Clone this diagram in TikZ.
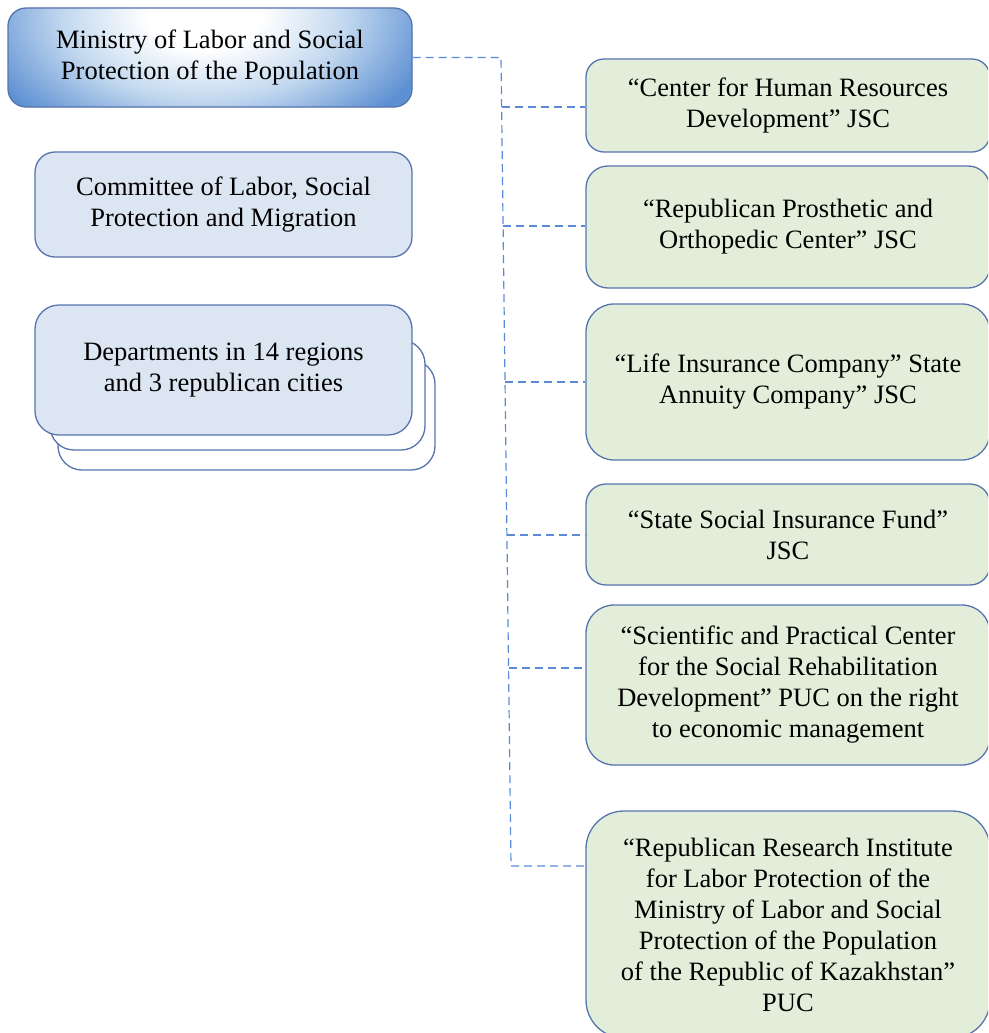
\documentclass[tikz,border=0pt]{standalone}
\usepackage{fontspec}
\setmainfont{Liberation Serif}
\definecolor{bordc}{HTML}{5774AD}
\definecolor{lblue}{HTML}{DCE6F3}
\definecolor{lgreen}{HTML}{E2EED9}
\definecolor{dashc}{HTML}{5B8BD8}
\definecolor{mlight}{HTML}{C2D8EF}
\definecolor{mblue}{HTML}{5D90D2}
\pgfdeclareradialshading{minsh}{\pgfpointorigin}{color(0bp)=(white); color(6bp)=(white); color(15bp)=(mlight); color(25bp)=(mblue); color(50bp)=(mblue)}
\tikzset{
  box/.style={draw=bordc, line width=1.3pt, align=center, inner sep=0pt,
    font=\fontsize{26.5}{31}\selectfont},
  bluebox/.style={box, fill=lblue},
  greenbox/.style={box, fill=lgreen},
  backbox/.style={box, fill=white},
  conn/.style={draw=dashc, line width=1.2pt, dash pattern=on 8pt off 5pt}
}
\begin{document}
\begin{tikzpicture}[x=1pt, y=-1pt]
\useasboundingbox (0,0) rectangle (988,1033);
\clip (0,0) rectangle (988,1033);
% left column
\node[box, fill=mblue, rounded corners=18pt, minimum width=404pt, minimum height=99pt,
  path picture={\shade[shading=minsh] ([xshift=-6pt,yshift=-8pt]path picture bounding box.north) ellipse [x radius=235pt, y radius=140pt];}] (ministry) at (210,57.5)
  {Ministry of Labor and Social\\Protection of the Population};
\node[bluebox, rounded corners=20pt, minimum width=377pt, minimum height=105pt] (committee) at (223.5,204.5)
  {Committee of Labor, Social\\Protection and Migration};
\node[backbox, rounded corners=24pt, minimum width=377pt, minimum height=110pt] (dep3) at (246.5,415) {};
\node[backbox, rounded corners=24pt, minimum width=375pt, minimum height=110pt] (dep2) at (237.5,395) {};
\node[bluebox, rounded corners=24pt, minimum width=377pt, minimum height=130pt] (dep1) at (223.5,370)
  {Departments in 14 regions\\and 3 republican cities};
% right column
\node[greenbox, rounded corners=18pt, minimum width=404pt, minimum height=93pt] (b1) at (788,105.5)
  {“Center for Human Resources\\Development” JSC};
\node[greenbox, rounded corners=22pt, minimum width=404pt, minimum height=122pt] (b2) at (788,227)
  {“Republican Prosthetic and\\Orthopedic Center” JSC};
\node[greenbox, rounded corners=28pt, minimum width=404pt, minimum height=156pt] (b3) at (788,382)
  {“Life Insurance Company” State\\Annuity Company” JSC};
\node[greenbox, rounded corners=20pt, minimum width=404pt, minimum height=101pt] (b4) at (788,534.5)
  {“State Social Insurance Fund”\\JSC};
\node[greenbox, rounded corners=28pt, minimum width=404pt, minimum height=160pt] (b5) at (788,685)
  {“Scientific and Practical Center\\for the Social Rehabilitation\\Development” PUC on the right\\to economic management};
\node[greenbox, rounded corners=38pt, minimum width=404pt, minimum height=227pt] (b6) at (788,924.5)
  {“Republican Research Institute\\for Labor Protection of the\\Ministry of Labor and Social\\Protection of the Population\\of the Republic of Kazakhstan”\\PUC};
% connectors
\coordinate (top) at (501,57.5);
\coordinate (s1) at (501.6,107);
\coordinate (s2) at (503,226);
\coordinate (s3) at (505,382);
\coordinate (s4) at (507,535);
\coordinate (s5) at (509,668);
\coordinate (s6) at (511,866);
\draw[conn] (ministry.east) -- (top) -- (s6) -- (b6.west |- s6);
\draw[conn] (s1) -- (b1.west |- s1);
\draw[conn] (s2) -- (b2.west |- s2);
\draw[conn] (s3) -- (b3.west |- s3);
\draw[conn] (s4) -- (b4.west |- s4);
\draw[conn] (s5) -- (b5.west |- s5);
\end{tikzpicture}
\end{document}
